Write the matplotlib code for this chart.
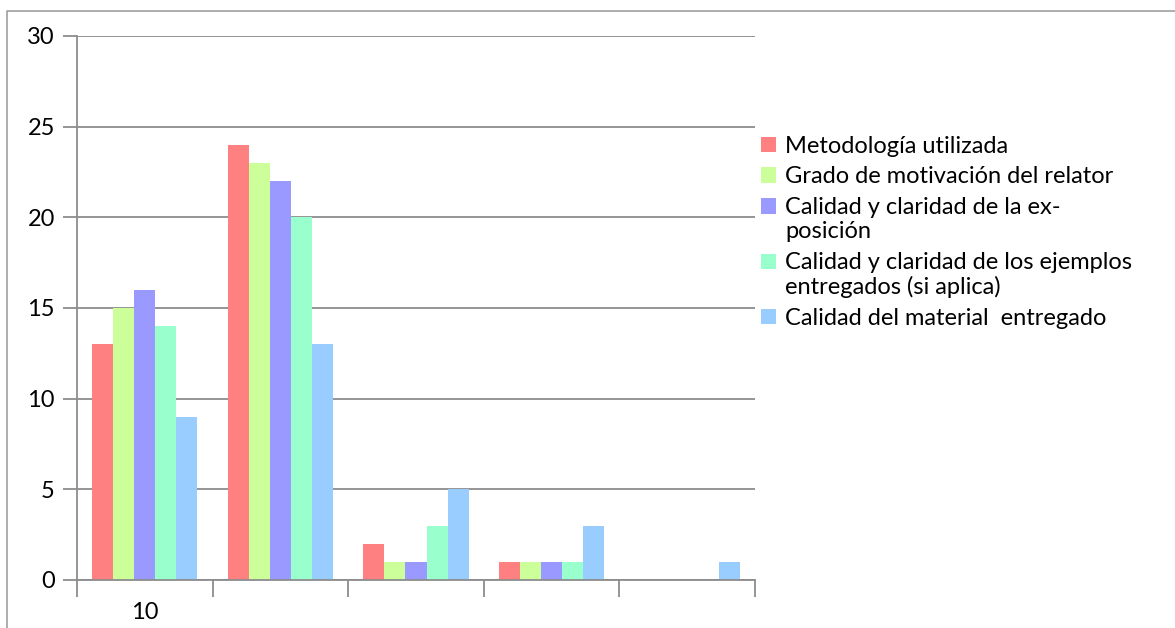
import numpy as np
import matplotlib.pyplot as plt
from matplotlib.lines import Line2D

plt.rcParams['font.family'] = ['Lato', 'DejaVu Sans']

# datos
categorias = ['10', '', '', '', '']
series = ['Metodología utilizada',
          'Grado de motivación del relator',
          'Calidad y claridad de la ex-\nposición',
          'Calidad y claridad de los ejemplos\nentregados (si aplica)',
          'Calidad del material  entregado']
metodologia = [13, 24, 2, 1, 0]
motivacion = [15, 23, 1, 1, 0]
exposicion = [16, 22, 1, 1, 0]
ejemplos = [14, 20, 3, 1, 0]
material = [9, 13, 5, 3, 1]
colores = ['#ff8080', '#ccff99', '#9999ff', '#99ffcc', '#99ccff']

valores = [metodologia, motivacion, exposicion, ejemplos, material]

fs = 17
fig = plt.figure(figsize=(11.75, 6.28), dpi=100)
ax = fig.add_axes([77/1175, 1-580/628, (755-77)/1175, (580-36)/628])

x = np.arange(len(categorias))
ancho = 0.155
for i, (v, c, s) in enumerate(zip(valores, colores, series)):
    ax.bar(x + (i - 2) * ancho, v, width=ancho, color=c, label=s, zorder=2)

gris = '#8c8c8c'
ax.set_xlim(-0.5, len(categorias) - 0.5)
ax.set_ylim(0, 30)
ax.set_yticks(range(0, 31, 5))
ax.yaxis.grid(True, color=gris, linewidth=1.3, zorder=0)
ax.set_axisbelow(True)

# ticks en los bordes de categoria, etiquetas al centro
ax.set_xticks(np.arange(len(categorias) + 1) - 0.5)
ax.set_xticklabels([])
ax.set_xticks(x, minor=True)
ax.set_xticklabels(categorias, minor=True, fontsize=fs)
ax.tick_params(axis='x', which='minor', length=0, pad=16)
ax.tick_params(axis='x', which='major', length=12, width=1.3, color=gris)
ax.tick_params(axis='y', length=10, width=1.3, color=gris, labelsize=fs, pad=6)

for lado in ['top', 'right']:
    ax.spines[lado].set_visible(False)
for lado in ['left', 'bottom']:
    ax.spines[lado].set_color(gris)
    ax.spines[lado].set_linewidth(1.3)

leg = fig.legend(loc='upper left', bbox_to_anchor=(761/1175, 1-136/628),
                 frameon=False, fontsize=fs, handlelength=0.62,
                 handleheight=0.62, handletextpad=0.4, labelspacing=0.4,
                 borderaxespad=0, borderpad=0)
for t in leg.get_texts():
    t.set_linespacing(1.2)
# el cuadro va en la primera linea de las etiquetas de dos lineas
for h, s in zip(leg.legend_handles, series):
    if '\n' in s:
        h.set_y(h.get_y() + 10)

# borde del grafico
fig.add_artist(Line2D([7/1175, 7/1175, 1], [0, 1-11/628, 1-11/628],
                      color='#a0a0a0', linewidth=1.2))

fig.savefig('out.png', dpi=100)
